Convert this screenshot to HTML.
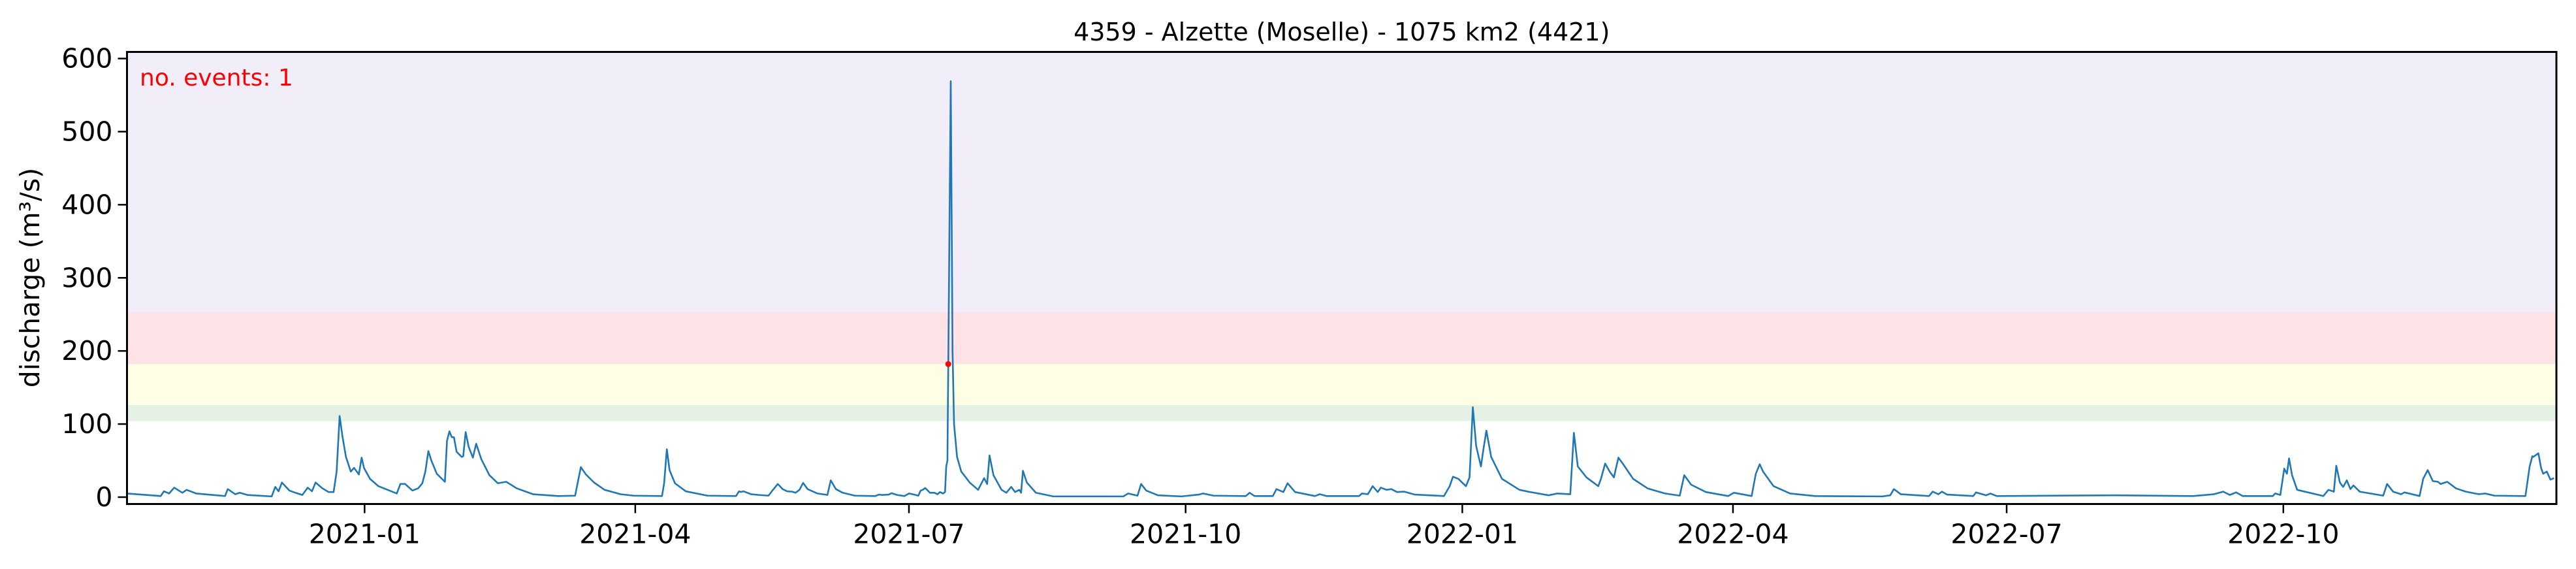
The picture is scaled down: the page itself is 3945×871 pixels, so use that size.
<!DOCTYPE html>
<html><head><meta charset="utf-8">
<style>
html,body{margin:0;padding:0;background:#fff;}
svg{display:block;font-family:"DejaVu Sans","Liberation Sans",sans-serif;}
</style></head>
<body>
<svg id="chart" width="3945" height="871" viewBox="0 0 3945 871" xmlns="http://www.w3.org/2000/svg">
<g id="bands"></g>
<g id="series"></g>
<g id="axes"></g>
</svg>
<script>
// ---- data ----
const dayOffsets = [-79,-67.8,-66.7,-65,-63.3,-60.6,-59.2,-56,-46.4,-45.5,-43,-41.5,-39,-30.9,-29.7,-28.6,-27.5,-25,-23,-20.7,-18.9,-17.5,-16.3,-14,-12,-10.3,-9.3,-8.3,-7.4,-6.2,-4.6,-3.5,-2.6,-1.9,-0.99,-0.2,1.8,4.6,10.7,11.9,13.5,15.9,17.8,19.2,20.2,21.2,22.2,24,26.7,27.4,28.2,29,29.7,30.6,32.3,32.8,33.6,34.6,36.0,37.1,38.8,41.5,44.3,47.1,50.6,56,64.4,70,71.9,73.6,76.3,79.8,85.1,
89.4,98.9,99.6,100.5,101.4,103.2,106.8,114,123.5,124.5,125.2,126,128.5,131,134.3,135.7,137.4,139,140.5,142.2,143.3,144.6,145.8,147.3,150.6,153.9,155,156.7,159,163,169.8,171,172,174.3,175.2,177,179.5,181,182.2,184.1,184.9,185.6,186.4,188,189.5,190.5,191.3,192.3,193,
193.4,193.8,194.9,195.5,196,197,198.4,201.2,204,206,207,207.8,209.1,211.8,213.4,215,216.3,217.7,218.3,218.9,220.2,223.2,229,252.3,253.9,257,258.2,259.9,263.8,271.6,277.4,278.8,282.3,293,294.3,295.9,302,303.2,305.5,306.9,309.4,316,317.6,319.9,330.7,331.6,333.6,335.2,336.9,337.9,339.8,341.4,343.3,345.7,349.2,358.9,360.8,361.9,363.7,366.2,367.4,368.5,369.6,371.2,372,373,374.6,378.2,384,386.9,393.7,396.6,400.9,402.1,403.4,406.3,410.2,411.1,412.5,414,415.4,416.9,418.5,421.8,426.6,432.4,437.3,438.8,441.1,446,453.4,455.3,461.2,462.6,463.9,
465,468.5,474,482.3,504.7,507.3,508.5,510.8,520.2,521.4,523.3,524.5,526.2,534.9,535.8,539.2,540.6,542.7,582.3,608,614.9,618,620.2,622.3,624.5,634.5,635.3,637,638.3,639.2,639.9,640.9,642.6,651.3,653,654.8,655.6,656.8,657.9,659.1,660.3,661.3,663.4,671.2,672.5,674.5,677.1,678.3,683.3,684.5,686,687.7,689.4,690.3,692.5,695.4,698.7,703,705.1,708.2,718.5,719.9,720.8,721.1,722.8,723.7,724.4,725.6,726.8,728];
const discharge = [5,1.5,8,5,13,6,10,5,1.5,11,4,6,3,1,14,8,20,9,6,3,13,8,20,12,7,7,35,111,84,55,35,40,35,31,54,40,25,15,5,18,18,9,12,19,35,63,50,32,21,77,90,82,82,62,55,56,89,69,54,73,52,30,19,21,12,4,1.5,2,41,31,20,10,4,
2,1.5,19,65.5,37,19,8,2,1.5,8,7,8,4,3,2,9.5,18,11,8,7.5,6,10,19.5,11,5,3,23,11,6,2,1.5,3.5,3,3.5,5.5,3,1.5,5,4,2,9,10,12.5,6,6,4,7,5,7,
42,50,569,200,100,55,35,20,10,26,18,57,30,10,6,14,7,10,6,36,20,6,1,1,5,2,18,9,2.5,1,3.5,5,2,1.5,6,1.5,1.5,11,7,19,7,1.5,4,1.5,1.5,5,4,15,7,13,10,11,7,7.5,3.5,1.5,15,28,25,15,27,123,70,42,65,91,55,25,10,7.5,2.5,5,4,88,42,27,15,25,46,35,27,54,45,25,12,5,2,30,17,7,1.5,6,1.5,32,45,
35,15,5,1.5,1,2.5,11,4,1.5,7.5,4,7.5,3.5,1.5,6.5,2.5,5,1.5,2.5,1.5,4,7.5,3,6.5,1.5,1.5,5,3,39,32,53,30,10,1.5,10,7.5,43,20,14,23,11,16,7.5,2,18,7.5,4,6.5,1.5,25,37,22,21,18,21,12,7.5,4,5,2,1.5,42,56,55,60,40,32,35,24,26,40];
const yTickValues = [0,100,200,300,400,500,600];
const xTickLabels = ["2021-01","2021-04","2021-07","2021-10","2022-01","2022-04","2022-07","2022-10"];
const xTickDays = [0,90,181,273,365,455,546,638];
const bandLimits = [104,126,182,253,620];
const bandColors = ["#e5f1e4","#fefee5","#fde3e6","#f1eef9"];
const eventThreshold = 182;

// ---- layout ----
const L=194.5,R=3915,T=79.5,B=771.5;
const dMin=-79,dMax=728.8;
const x=d=>L+(d-dMin)/(dMax-dMin)*(R-L);
const y=v=>761-(v/100)*111.9;
const NS="http://www.w3.org/2000/svg";
function mk(tag,attrs,parent){const e=document.createElementNS(NS,tag);for(const k in attrs)e.setAttribute(k,attrs[k]);parent.appendChild(e);return e;}
const bands=document.getElementById('bands'),series=document.getElementById('series'),axes=document.getElementById('axes');

for(let i=0;i<bandColors.length;i++){
  const top=Math.max(y(bandLimits[i+1]),T);
  const r=mk('rect',{x:L,y:top,width:R-L,height:y(bandLimits[i])-top,fill:bandColors[i]},bands);
  
  
}

let dstr='';
for(let i=0;i<dayOffsets.length;i++){dstr+=(i?'L':'M')+x(dayOffsets[i]).toFixed(2)+' '+y(discharge[i]).toFixed(2);}
const line=mk('path',{d:dstr,fill:'none',stroke:'#1f77b4','stroke-width':2.6,'stroke-linejoin':'round'},series);



// event marker at first threshold crossing
for(let i=1;i<dayOffsets.length;i++){
  if(discharge[i-1]<eventThreshold&&discharge[i]>=eventThreshold){
    const f=(eventThreshold-discharge[i-1])/(discharge[i]-discharge[i-1]);
    const d=dayOffsets[i-1]+f*(dayOffsets[i]-dayOffsets[i-1]);
    const c=mk('circle',{cx:x(d),cy:y(eventThreshold),r:4.5,fill:'#ff0000'},series);
    
    
    break;
  }
}

const frame=mk('rect',{x:L,y:T,width:R-L,height:B-T,fill:'none',stroke:'#000','stroke-width':3},axes);



yTickValues.forEach(v=>{
  const tk=mk('line',{x1:L-14,x2:L,y1:y(v),y2:y(v),stroke:'#000','stroke-width':2.5},axes);
  
  
  const t=mk('text',{x:L-22,y:y(v)+14,'text-anchor':'end','font-size':41},axes);
  t.textContent=v;
  
  
});
xTickDays.forEach((d,i)=>{
  const tk=mk('line',{x1:x(d),x2:x(d),y1:B,y2:B+14,stroke:'#000','stroke-width':2.5},axes);
  
  
  const t=mk('text',{x:x(d),y:B+60,'text-anchor':'middle','font-size':41},axes);
  t.textContent=xTickLabels[i];
  
  
});

const title=mk('text',{x:(L+R)/2,y:62,'text-anchor':'middle','font-size':38},axes);
title.textContent='4359 - Alzette (Moselle) - 1075 km2 (4421)';



const yl=mk('text',{x:0,y:0,'text-anchor':'middle','font-size':41,transform:'translate(60,425) rotate(-90)'},axes);
yl.textContent='discharge (m³/s)';



const ev=mk('text',{x:214,y:131,'font-size':36,fill:'#ff0000'},axes);
ev.textContent='no. events: 1';


</script>
</body></html>
